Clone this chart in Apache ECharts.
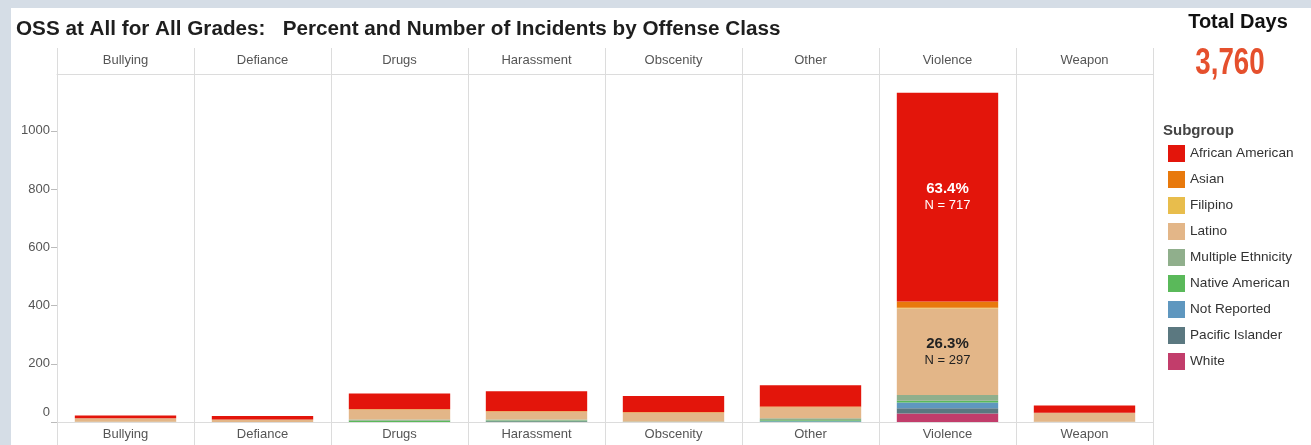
<!DOCTYPE html>
<html>
<head>
<meta charset="utf-8">
<script src="https://cdn.jsdelivr.net/npm/echarts@6/dist/echarts.min.js"></script>
<style>
  html, body { margin: 0; padding: 0; background: #d5dde6; }
  #chart { position: absolute; left: 11px; top: 8px; width: 1300px; height: 437px; background: #fff; }
</style>
</head>
<body>
<div id="chart"></div>
<script>
// offense classes
const categories = ['Bullying', 'Defiance', 'Drugs', 'Harassment', 'Obscenity', 'Other', 'Violence', 'Weapon']
// incidents per subgroup, same order as categories
const africanAmerican = [9, 12, 53, 68, 55, 73, 717, 25]
const asian = [0, 1, 2, 2, 1, 2, 22, 0]
const filipino = [0, 0, 0, 0, 0, 0, 2, 0]
const latino = [12, 8, 34, 27, 31, 38, 297, 31]
const multipleEthnicity = [1, 0, 5, 4, 2, 7, 20, 1]
const nativeAmerican = [0, 0, 4, 2, 0, 3, 6, 0]
const notReported = [0, 0, 0, 0, 0, 3, 20, 0]
const pacificIslander = [0, 0, 0, 3, 0, 0, 18, 0]
const white = [0, 0, 0, 0, 0, 0, 29, 0]
const yTicks = [0, 200, 400, 600, 800, 1000]
const totalDays = '3,760'

const groups = [
  { name: 'African American', data: africanAmerican, color: '#e3150b', labelColor: '#fff' },
  { name: 'Asian', data: asian, color: '#e8790c', labelColor: '#222' },
  { name: 'Filipino', data: filipino, color: '#e8bd4c', labelColor: '#222' },
  { name: 'Latino', data: latino, color: '#e3b688', labelColor: '#222' },
  { name: 'Multiple Ethnicity', data: multipleEthnicity, color: '#90af8c', labelColor: '#222' },
  { name: 'Native American', data: nativeAmerican, color: '#5ab95a', labelColor: '#222' },
  { name: 'Not Reported', data: notReported, color: '#5f97bf', labelColor: '#222' },
  { name: 'Pacific Islander', data: pacificIslander, color: '#5b7880', labelColor: '#222' },
  { name: 'White', data: white, color: '#c23d6b', labelColor: '#222' }
]

// column totals for the percent labels
const totals = categories.map((c, i) => groups.reduce((s, g) => s + g.data[i], 0))

const gridColor = '#dcdcdc'
const textColor = '#555'
const font = 'Liberation Sans, Arial, sans-serif'

const chart = echarts.init(document.getElementById('chart'))

// stack bottom-up: last group in the legend is drawn first
const series = groups.slice().reverse().map(g => ({
  name: g.name,
  type: 'bar',
  stack: 'total',
  barWidth: '74%',
  itemStyle: { color: g.color },
  data: g.data.map((v, i) => {
    const share = v / totals[i]
    // only the big segments get a label
    const big = v > 200
    return {
      value: v,
      label: {
        show: big,
        position: 'inside',
        formatter: '{p|' + (share * 100).toFixed(1) + '%}\n{n|N = ' + v + '}',
        rich: {
          p: { fontSize: 15, fontWeight: 'bold', color: g.labelColor, lineHeight: 17 },
          n: { fontSize: 13, color: g.labelColor, lineHeight: 16 }
        }
      }
    }
  })
}))

chart.setOption({
  animation: false,
  textStyle: { fontFamily: font },
  graphic: [
    {
      type: 'text',
      x: 5,
      y: 21,
      style: {
        text: 'OSS at All for All Grades:   Percent and Number of Incidents by Offense Class',
        font: 'bold 20.7px ' + font,
        fill: '#1e1e1e',
        verticalAlign: 'middle'
      }
    },
    {
      type: 'text',
      x: 1227,
      y: 14,
      style: { text: 'Total Days', font: 'bold 20px ' + font, fill: '#111', align: 'center', verticalAlign: 'middle' }
    },
    {
      type: 'text',
      x: 1219,
      y: 56,
      scaleX: 0.77,
      style: { text: totalDays, font: 'bold 36px ' + font, fill: '#e5502d', align: 'center', verticalAlign: 'middle' }
    },
    {
      type: 'text',
      x: 1152,
      y: 123,
      style: { text: 'Subgroup', font: 'bold 15px ' + font, fill: '#444', verticalAlign: 'middle' }
    }
  ],
  legend: {
    orient: 'vertical',
    left: 1152,
    top: 132,
    icon: 'rect',
    itemWidth: 17,
    itemHeight: 17,
    itemGap: 9,
    selectedMode: false,
    data: groups.map(g => g.name),
    textStyle: { fontSize: 13.6, color: '#333' }
  },
  grid: { left: 46, right: 158, top: 66, bottom: 23 },
  xAxis: [
    {
      type: 'category',
      data: categories,
      position: 'bottom',
      axisLine: { show: true, lineStyle: { color: gridColor } },
      axisTick: { show: true, length: 23, interval: 0, lineStyle: { color: gridColor } },
      axisLabel: { margin: 6, fontSize: 13, color: textColor, interval: 0 },
      splitLine: { show: true, interval: 0, lineStyle: { color: gridColor } }
    },
    {
      type: 'category',
      data: categories,
      position: 'top',
      axisLine: { show: true, lineStyle: { color: gridColor } },
      axisTick: { show: true, length: 26, interval: 0, lineStyle: { color: gridColor } },
      axisLabel: { margin: 7, fontSize: 13, color: textColor, interval: 0 },
      splitLine: { show: false }
    }
  ],
  yAxis: {
    type: 'value',
    min: 0,
    max: 1195,
    interval: 200,
    axisLine: { show: true, lineStyle: { color: gridColor } },
    axisTick: { show: true, length: 6, customValues: yTicks, lineStyle: { color: '#bbb' } },
    axisLabel: {
      customValues: yTicks,
      fontSize: 13,
      color: textColor,
      margin: 7,
      formatter: v => (v === 0 ? '{z|0}' : String(v)),
      rich: { z: { fontSize: 13, color: textColor, padding: [0, 0, 20, 0] } }
    },
    splitLine: { show: false }
  },
  series: series
})
</script>
</body>
</html>
